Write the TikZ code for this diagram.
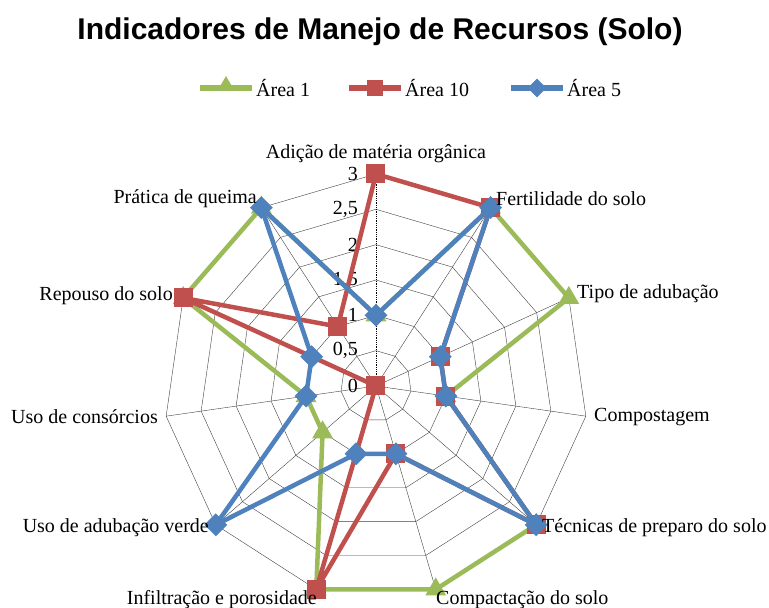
\documentclass[tikz,border=0pt]{standalone}
\usepackage{fontspec}
\setmainfont{Liberation Serif}
\newfontfamily\titlefont{Liberation Sans}
\usepackage{tikz}
\usetikzlibrary{shapes.geometric}

\definecolor{verde}{HTML}{9BBB59}
\definecolor{vermelho}{HTML}{C0504D}
\definecolor{azul}{HTML}{4F81BD}

\tikzset{
  grade/.style={black!75, line width=0.4pt},
  serie/.style={line width=4.5pt, line join=round},
  tri/.style={regular polygon, regular polygon sides=3, fill=verde, minimum size=24pt, inner sep=0pt},
  quad/.style={rectangle, fill=vermelho, minimum size=19pt, inner sep=0pt},
  losango/.style={diamond, fill=azul, minimum size=23pt, inner sep=0pt},
  rotulo/.style={font=\fontsize{20}{24}\selectfont, inner sep=0pt}
}

\begin{document}
\begin{tikzpicture}[x=1pt,y=1pt]
\useasboundingbox (-376,-222) rectangle (393,386);
\def\u{70.67}
\def\passo{32.7273}

\foreach \r in {0.5,1,...,3} {
  \draw[grade] (90:\r*\u) \foreach \k in {1,...,10} { -- (90-\k*\passo:\r*\u) } -- cycle;
}
\coordinate (c) at (0,0);
\foreach \k in {1,...,10} {
  \coordinate (e\k) at (90-\k*\passo:3*\u);
  \draw[grade] (c) -- (e\k);
}
\coordinate (e0) at (0,3*\u);
\draw[densely dotted, line width=0.8pt] (c) -- (e0);

\foreach \v/\t in {0/0, 0.5/{0,5}, 1/1, 1.5/{1,5}, 2/2, 2.5/{2,5}, 3/3}
  \node[rotulo, anchor=east] at (-18,\v*\u) {\t};

\foreach \v [count=\k from 0] in {1,3,3,1,3,3,3,1,1,3,3}
  \coordinate (g\k) at (90-\k*\passo:\v*\u);
\foreach \v [count=\k from 0] in {3,3,1,1,3,1,3,0,0,3,1}
  \coordinate (r\k) at (90-\k*\passo:\v*\u);
\foreach \v [count=\k from 0] in {1,3,1,1,3,1,1,3,1,1,3}
  \coordinate (b\k) at (90-\k*\passo:\v*\u);

\draw[serie, verde] (g0) \foreach \k in {1,...,10} { -- (g\k) } -- cycle;
\foreach \k in {0,...,10} \node[tri] at (g\k) {};
\draw[serie, vermelho] (r0) \foreach \k in {1,...,10} { -- (r\k) } -- cycle;
\foreach \k in {0,...,10} \node[quad] at (r\k) {};
\draw[serie, azul] (b0) \foreach \k in {1,...,10} { -- (b\k) } -- cycle;
\foreach \k in {0,...,10} \node[losango] at (b\k) {};

\node[rotulo] (l0) at (0,232) {Adição de matéria orgânica};
\node[rotulo, anchor=west] (l1) at (120,187) {Fertilidade do solo};
\node[rotulo, anchor=west] (l2) at (201,92) {Tipo de adubação};
\node[rotulo, anchor=west] (l3) at (218,-31) {Compostagem};
\node[rotulo, anchor=west] (l4) at (166,-142) {Técnicas de preparo do solo};
\node[rotulo, anchor=west] (l5) at (60,-214) {Compactação do solo};
\node[rotulo, anchor=east] (l6) at (-59,-214) {Infiltração e porosidade};
\node[rotulo, anchor=east] (l7) at (-167,-142) {Uso de adubação verde};
\node[rotulo, anchor=east] (l8) at (-218,-31) {Uso de consórcios};
\node[rotulo, anchor=east] (l9) at (-203,90) {Repouso do solo};
\node[rotulo, anchor=east] (l10) at (-119,187) {Prática de queima};

\node[font=\titlefont\bfseries\fontsize{30}{36}\selectfont] (titulo) at (4,354) {Indicadores de Manejo de Recursos (Solo)};

\coordinate (la1) at (-176,298);
\coordinate (lb1) at (-124,298);
\draw[serie, verde, line width=5.5pt] (la1) -- (lb1);
\node[tri, minimum size=20pt] at (-150,300) {};
\node[rotulo, anchor=west] (leg1) at (-120,298) {Área 1};
\coordinate (la2) at (-27,298);
\coordinate (lb2) at (25,298);
\draw[serie, vermelho, line width=5.5pt] (la2) -- (lb2);
\node[quad, minimum size=16pt] at (-1,298) {};
\node[rotulo, anchor=west] (leg2) at (29,298) {Área 10};
\coordinate (la3) at (135,298);
\coordinate (lb3) at (187,298);
\draw[serie, azul, line width=5.5pt] (la3) -- (lb3);
\node[losango, minimum size=19pt] at (161,298) {};
\node[rotulo, anchor=west] (leg3) at (191,298) {Área 5};
\end{tikzpicture}
\end{document}
